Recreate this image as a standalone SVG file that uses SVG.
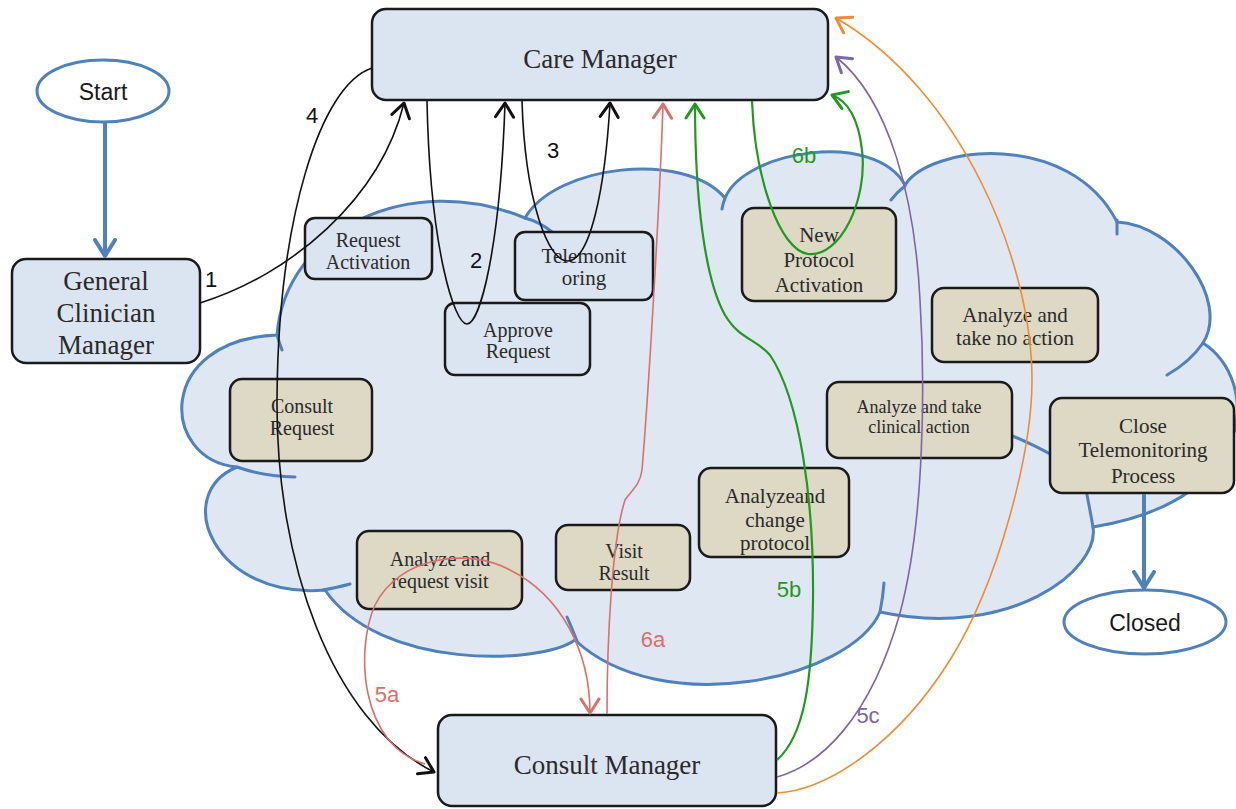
<svg xmlns="http://www.w3.org/2000/svg" width="1236" height="809" viewBox="0 0 1236 809">
<style>
.cloud{fill:#dfe7f3;stroke:#4f81bd;stroke-width:3}
.tail{fill:none;stroke:#4f81bd;stroke-width:3;stroke-linecap:round}
.bb{fill:#dbe4f1;stroke:#1a1a1a;stroke-width:2.5}
.tb{fill:#ddd9c4;stroke:#1a1a1a;stroke-width:2.5}
.ell{fill:#ffffff;stroke:#4f81bd;stroke-width:3}
.t{font-family:"Liberation Serif","Times New Roman",serif;fill:#2a2a2a;text-anchor:middle}
.s{font-family:"Liberation Sans",Arial,sans-serif;fill:#1a1a1a;text-anchor:middle}
.big{font-size:27px}
.sm{font-size:21px}
.s20{font-size:20px}
.xs{font-size:18px}
.lbl{font-family:"Liberation Sans",Arial,sans-serif;font-size:22px;text-anchor:middle}
.c{fill:none;stroke-width:1.6}
.k{stroke:#111}
.r{stroke:#d9706a}
.g{stroke:#1f9a1f;stroke-width:2.2}
.p{stroke:#7d65a8}
.o{stroke:#f08c32}
.blue{fill:none;stroke:#4f81bd;stroke-width:4}
</style>
<defs>
<marker id="mk" markerUnits="userSpaceOnUse" markerWidth="20" markerHeight="22" viewBox="0 0 20 22" refX="16" refY="11" orient="auto"><path d="M2,2 L16,11 L2,20" fill="none" stroke="#111" stroke-width="3" stroke-linejoin="round" stroke-linecap="round"/></marker>
<marker id="mr" markerUnits="userSpaceOnUse" markerWidth="20" markerHeight="22" viewBox="0 0 20 22" refX="16" refY="11" orient="auto"><path d="M2,2 L16,11 L2,20" fill="none" stroke="#d9706a" stroke-width="3" stroke-linejoin="round" stroke-linecap="round"/></marker>
<marker id="mg" markerUnits="userSpaceOnUse" markerWidth="20" markerHeight="22" viewBox="0 0 20 22" refX="16" refY="11" orient="auto"><path d="M2,2 L16,11 L2,20" fill="none" stroke="#1f9a1f" stroke-width="3" stroke-linejoin="round" stroke-linecap="round"/></marker>
<marker id="mp" markerUnits="userSpaceOnUse" markerWidth="20" markerHeight="22" viewBox="0 0 20 22" refX="16" refY="11" orient="auto"><path d="M2,2 L16,11 L2,20" fill="none" stroke="#7d65a8" stroke-width="3" stroke-linejoin="round" stroke-linecap="round"/></marker>
<marker id="mo" markerUnits="userSpaceOnUse" markerWidth="20" markerHeight="22" viewBox="0 0 20 22" refX="16" refY="11" orient="auto"><path d="M2,2 L16,11 L2,20" fill="none" stroke="#f08c32" stroke-width="3" stroke-linejoin="round" stroke-linecap="round"/></marker>
<marker id="mb" markerUnits="userSpaceOnUse" markerWidth="22" markerHeight="24" viewBox="0 0 22 24" refX="18" refY="12" orient="auto"><path d="M2,2 L18,12 L2,22" fill="none" stroke="#4f81bd" stroke-width="4" stroke-linejoin="round" stroke-linecap="round"/></marker>
</defs>

<g id="cloud">
<path class="cloud" d="M277,335 C285,230 410,170 525,218 C555,165 685,150 725,198 C745,150 875,130 905,185 C930,145 1070,130 1117,222 C1175,225 1230,300 1203,343 C1260,380 1260,500 1093,527 C1100,570 1010,640 880,612 C850,680 660,720 575,640 C540,665 380,670 325,590 C215,600 170,495 237,467 C160,460 155,340 277,335 Z"/>
<path class="tail" d="M277,335 Q279,342 282,350 M237,467 Q262,476 295,477 M323,590 Q335,588 350,584 M577,641 Q572,628 567,617 M880,612 Q883,597 884,583 M1093,527 Q1090,510 1087,495 M1203,343 Q1190,362 1167,375 M1117,220 L1117,234 M905,186 Q897,192 891,200 M725,198 Q723,203 722,209 M525,218 Q540,222 552,232 M1010,435 Q1030,443 1052,455"/>
</g>

<g id="start"><ellipse class="ell" cx="103" cy="91" rx="66" ry="31"/><text class="s" x="103" y="100" font-size="23">Start</text></g>
<g id="closed"><ellipse class="ell" cx="1145" cy="622" rx="81" ry="32"/><text class="s" x="1145" y="631" font-size="23">Closed</text></g>

<g id="general-clinician-manager"><rect class="bb" x="12" y="259" width="188" height="104" rx="14"/><text class="t big" x="106" y="290">General</text><text class="t big" x="106" y="322">Clinician</text><text class="t big" x="106" y="354">Manager</text></g>
<g id="care-manager"><rect class="bb" x="372" y="9" width="456" height="91" rx="14"/><text class="t big" x="600" y="68">Care Manager</text></g>
<g id="consult-manager"><rect class="bb" x="438" y="715" width="338" height="91" rx="14"/><text class="t big" x="607" y="774">Consult Manager</text></g>

<g id="request-activation"><rect class="bb" x="305" y="218" width="127" height="61" rx="10"/><text class="t s20" x="368" y="247">Request</text><text class="t s20" x="368" y="269">Activation</text></g>
<g id="telemonitoring"><rect class="bb" x="515" y="232" width="138" height="68" rx="10"/><text class="t sm" x="584" y="263">Telemonit</text><text class="t sm" x="584" y="285">oring</text></g>
<g id="approve-request"><rect class="bb" x="445" y="303" width="145" height="72" rx="10"/><text class="t s20" x="518" y="337">Approve</text><text class="t s20" x="518" y="358">Request</text></g>

<g id="new-protocol-activation"><rect class="tb" x="742" y="208" width="154" height="93" rx="12"/><text class="t sm" x="819" y="242">New</text><text class="t sm" x="819" y="267">Protocol</text><text class="t sm" x="819" y="292">Activation</text></g>
<g id="analyze-no-action"><rect class="tb" x="932" y="288" width="166" height="74" rx="12"/><text class="t sm" x="1015" y="322">Analyze and</text><text class="t sm" x="1015" y="345">take no action</text></g>
<g id="analyze-clinical-action"><rect class="tb" x="827" y="382" width="185" height="76" rx="12"/><text class="t xs" x="919" y="413">Analyze and take</text><text class="t xs" x="919" y="433">clinical action</text></g>
<g id="close-telemonitoring"><rect class="tb" x="1050" y="398" width="184" height="95" rx="12"/><text class="t sm" x="1143" y="433">Close</text><text class="t sm" x="1143" y="457">Telemonitoring</text><text class="t sm" x="1143" y="483">Process</text></g>
<g id="consult-request"><rect class="tb" x="230" y="379" width="142" height="82" rx="12"/><text class="t s20" x="302" y="413">Consult</text><text class="t s20" x="302" y="435">Request</text></g>
<g id="analyze-request-visit"><rect class="tb" x="357" y="531" width="165" height="78" rx="12"/><text class="t s20" x="440" y="566">Analyze and</text><text class="t s20" x="440" y="588">request visit</text></g>
<g id="visit-result"><rect class="tb" x="556" y="525" width="134" height="65" rx="12"/><text class="t s20" x="624" y="558">Visit</text><text class="t s20" x="624" y="580">Result</text></g>
<g id="analyze-change-protocol"><rect class="tb" x="699" y="468" width="150" height="89" rx="12"/><text class="t sm" x="775" y="503">Analyzeand</text><text class="t sm" x="775" y="527">change</text><text class="t sm" x="775" y="550">protocol</text></g>

<g id="connectors">
<path class="blue" d="M105,123 L105,256" marker-end="url(#mb)"/>
<path class="blue" d="M1144,494 L1144,588" marker-end="url(#mb)"/>
<path class="c k" d="M200,303 C290,275 380,200 404,103" marker-end="url(#mk)"/>
<path class="c k" d="M372,68 C320,85 278,220 277,400 C276,560 330,720 434,772" marker-end="url(#mk)"/>
<path class="c k" d="M427,101 C430,250 455,325 467,324 C480,323 500,250 505,103" marker-end="url(#mk)"/>
<path class="c k" d="M522,101 C525,200 548,262 568,261 C590,260 605,190 610,103" marker-end="url(#mk)"/>
<path class="c r" d="M607,714 C607,640 612,540 625,500 C632,490 640,485 642,470 C648,400 660,200 663,104" marker-end="url(#mr)"/>
<path class="c r" d="M425,764 C360,745 355,650 375,605 C400,555 470,548 510,570 C560,595 590,650 590,713" marker-end="url(#mr)"/>
<path class="c g" d="M777,760 C805,735 812,680 813,600 C814,500 800,400 770,355 C755,338 740,340 725,315 C705,280 695,200 695,104" marker-end="url(#mg)"/>
<path class="c g" d="M752,101 C755,180 780,250 808,254 C840,258 868,200 862,150 C858,115 845,100 832,95" marker-end="url(#mg)"/>
<path class="c p" d="M777,777 C820,765 870,720 900,613 C925,520 925,380 920,300 C915,200 890,100 836,57" marker-end="url(#mp)"/>
<path class="c o" d="M777,793 C830,790 900,740 950,660 C1000,580 1032,450 1032,380 C1032,260 960,90 836,18" marker-end="url(#mo)"/>
<text class="lbl" x="211" y="287" fill="#111">1</text>
<text class="lbl" x="476" y="268" fill="#111">2</text>
<text class="lbl" x="553" y="158" fill="#111">3</text>
<text class="lbl" x="312" y="123" fill="#111">4</text>
<text class="lbl" x="387" y="702" fill="#d9706a">5a</text>
<text class="lbl" x="789" y="597" fill="#1f9a1f">5b</text>
<text class="lbl" x="868" y="723" fill="#7d65a8">5c</text>
<text class="lbl" x="653" y="647" fill="#d9706a">6a</text>
<text class="lbl" x="804" y="163" fill="#1f9a1f">6b</text>
</g>
</svg>
